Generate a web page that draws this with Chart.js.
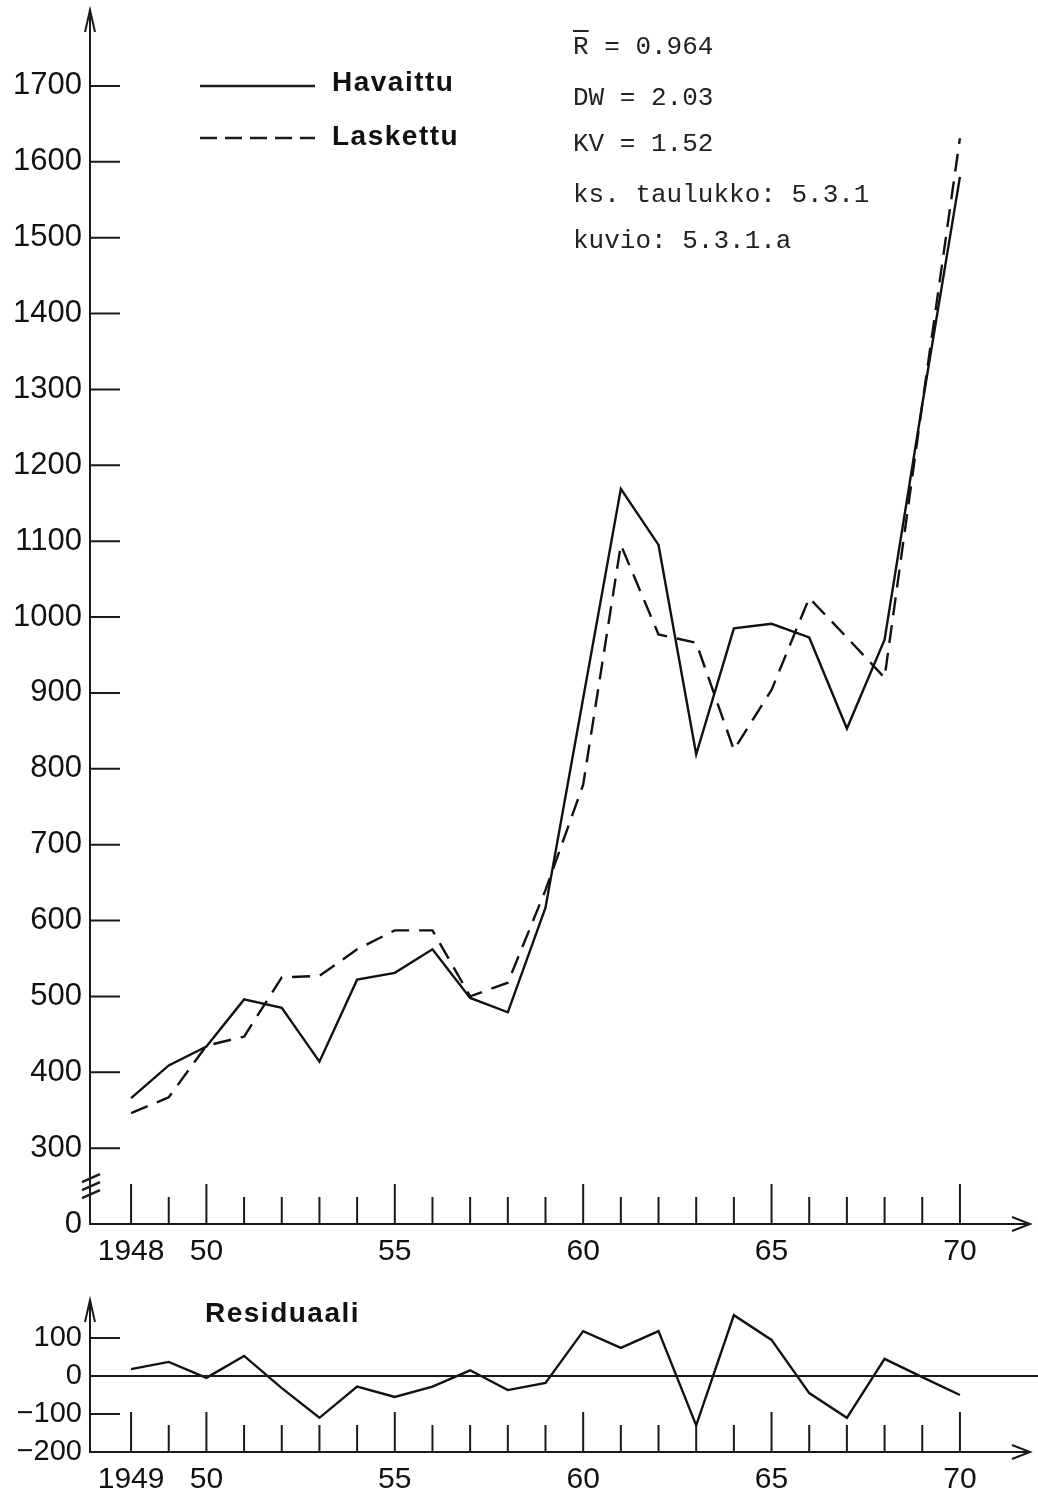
<!DOCTYPE html>
<html>
<head>
<meta charset="utf-8">
<script src="https://cdn.jsdelivr.net/npm/chart.js@4.4.1/dist/chart.umd.min.js"></script>
<style>
  body { margin: 0; background: #fff; width: 1038px; height: 1493px; position: relative; overflow: hidden; }
  canvas { position: absolute; left: 0; }
  .t { position: absolute; white-space: nowrap; color: #111; }
  .leg { font: bold 28px "Liberation Sans", Arial, sans-serif; letter-spacing: 1.5px; line-height: 32px; }
  .ms { font: 26px "Liberation Mono", "Courier New", monospace; line-height: 30px; color: #222; }
  .ov { text-decoration: overline; }
</style>
</head>
<body>
<canvas id="main" width="1038" height="1275" style="top:0"></canvas>
<canvas id="resid" width="1038" height="213" style="top:1280px"></canvas>

<div class="t leg" style="left:332px;top:66px">Havaittu</div>
<div class="t leg" style="left:332px;top:120px">Laskettu</div>

<div class="t ms" style="left:573px;top:32px"><span class="ov">R</span>  = 0.964</div>
<div class="t ms" style="left:573px;top:83px">DW = 2.03</div>
<div class="t ms" style="left:573px;top:129px">KV = 1.52</div>
<div class="t ms" style="left:573px;top:180px">ks. taulukko: 5.3.1</div>
<div class="t ms" style="left:573px;top:226px">kuvio: 5.3.1.a</div>

<div class="t leg" style="left:205px;top:1297px;font-size:28px">Residuaali</div>

<script>
// vuodet ja sarjat (luettu kuvasta)
const years = [1948, 1949, 1950, 1951, 1952, 1953, 1954, 1955, 1956, 1957, 1958, 1959,
               1960, 1961, 1962, 1963, 1964, 1965, 1966, 1967, 1968, 1969, 1970];
const havaittu = [366, 409, 434, 496, 485, 414, 522, 531, 562, 498, 479, 617,
                  893, 1169, 1095, 819, 985, 991, 973, 853, 970, 1280, 1580];
const laskettu = [346, 367, 435, 447, 525, 527, 562, 587, 587, 500, 518, 640,
                  779, 1095, 977, 966, 825, 904, 1025, 973, 920, 1280, 1631];
const residuaali = [18, 37, -5, 53, -32, -110, -28, -55, -28, 15, -37, -18,
                    118, 74, 118, -130, 160, 95, -45, -110, 45, -3, -50];

// akselien merkinnät
const xTickYears = [1948, 1950, 1955, 1960, 1965, 1970];
const mainXLabels = ['1948', '50', '55', '60', '65', '70'];
const resXLabels = ['1949', '50', '55', '60', '65', '70'];
const mainYTicks = [200, 300, 400, 500, 600, 700, 800, 900, 1000, 1100, 1200, 1300, 1400, 1500, 1600, 1700];
const mainYLabels = ['0', '300', '400', '500', '600', '700', '800', '900', '1000', '1100', '1200', '1300', '1400', '1500', '1600', '1700'];
const resYTicks = [-200, -100, 0, 100];
const resYLabels = ['\u2212200', '\u2212100', '0', '100'];

const ink = '#1a1a1a';
const fontFamily = '"Liberation Sans", Arial, sans-serif';

const axisMarks = {
  id: 'axisMarks',
  afterDraw(chart, args, o) {
    const { ctx, chartArea: a, scales: { x, y } } = chart;
    ctx.save();
    ctx.strokeStyle = ink;
    ctx.lineWidth = 2;
    ctx.beginPath();
    years.forEach(yr => {
      const px = x.getPixelForValue(yr);
      const len = xTickYears.includes(yr) ? o.longTick : o.shortTick;
      ctx.moveTo(px, a.bottom);
      ctx.lineTo(px, a.bottom - len);
    });
    o.yMarks.forEach(v => {
      const py = y.getPixelForValue(v);
      ctx.moveTo(a.left, py);
      ctx.lineTo(a.left + 30, py);
    });
    // nuolet
    ctx.moveTo(a.left - 5, a.top + 22); ctx.lineTo(a.left, a.top); ctx.lineTo(a.left + 5, a.top + 22);
    ctx.moveTo(a.right - 18, a.bottom - 7); ctx.lineTo(a.right, a.bottom); ctx.lineTo(a.right - 18, a.bottom + 7);
    ctx.stroke();

    if (o.zeroLine) {
      const p0 = y.getPixelForValue(0);
      ctx.beginPath();
      ctx.moveTo(a.left, p0);
      ctx.lineTo(chart.width, p0);
      ctx.stroke();
    }

    if (o.axisBreak) {
      const pb = y.getPixelForValue(250);
      ctx.lineWidth = 2.5;
      ctx.beginPath();
      for (let k = 0; k < 3; k++) {
        ctx.moveTo(a.left - 8, pb + k * 8 - 4);
        ctx.lineTo(a.left + 10, pb + k * 8 - 12);
      }
      ctx.stroke();
    }

    if (o.legend) {
      ctx.lineWidth = 2.4;
      ctx.beginPath();
      ctx.moveTo(200, 86); ctx.lineTo(315, 86);
      ctx.stroke();
      ctx.setLineDash([17, 8]);
      ctx.beginPath();
      ctx.moveTo(200, 138); ctx.lineTo(315, 138);
      ctx.stroke();
    }
    ctx.restore();
  }
};

function xScale(labels, h) {
  return {
    type: 'linear', min: 1946.91, max: 1971.86,
    afterFit(s) { s.height = h; s.paddingLeft = 0; s.paddingRight = 0; },
    afterBuildTicks(s) { s.ticks = xTickYears.map(v => ({ value: v })); },
    ticks: {
      callback: v => labels[xTickYears.indexOf(v)],
      padding: 10, maxRotation: 0, autoSkip: false,
      font: { family: fontFamily, size: 30 }, color: '#111'
    },
    grid: { display: false, drawTicks: false },
    border: { display: true, color: ink, width: 2 }
  };
}

function yScale(min, max, tickVals, labels, size) {
  return {
    type: 'linear', min: min, max: max,
    afterFit(s) { s.width = 90; s.paddingTop = 0; s.paddingBottom = 0; },
    afterBuildTicks(s) { s.ticks = tickVals.map(v => ({ value: v })); },
    ticks: {
      callback: v => labels[tickVals.indexOf(v)],
      padding: 8, autoSkip: false,
      font: { family: fontFamily, size: size }, color: '#111'
    },
    grid: { display: false, drawTicks: false },
    border: { display: true, color: ink, width: 2 }
  };
}

new Chart(document.getElementById('main'), {
  type: 'line',
  data: {
    datasets: [
      {
        label: 'Havaittu',
        data: years.map((v, i) => ({ x: v, y: havaittu[i] })),
        borderColor: '#111', borderWidth: 2.4, pointRadius: 0, tension: 0
      },
      {
        label: 'Laskettu',
        data: years.map((v, i) => ({ x: v, y: laskettu[i] })),
        borderColor: '#111', borderWidth: 2.4, borderDash: [18, 10], pointRadius: 0, tension: 0
      }
    ]
  },
  options: {
    responsive: false, animation: false, devicePixelRatio: 1,
    layout: { padding: { top: 10, right: 8, left: 0, bottom: 0 } },
    plugins: {
      legend: { display: false },
      tooltip: { enabled: false },
      axisMarks: { shortTick: 27, longTick: 40, yMarks: mainYTicks.slice(1), axisBreak: true, legend: true }
    },
    scales: {
      x: xScale(mainXLabels, 51),
      y: yScale(200, 1800, mainYTicks, mainYLabels, 31)
    }
  },
  plugins: [axisMarks]
});

new Chart(document.getElementById('resid'), {
  type: 'line',
  data: {
    datasets: [
      {
        label: 'Residuaali',
        data: years.map((v, i) => ({ x: v, y: residuaali[i] })),
        borderColor: '#111', borderWidth: 2.4, pointRadius: 0, tension: 0
      }
    ]
  },
  options: {
    responsive: false, animation: false, devicePixelRatio: 1,
    layout: { padding: { top: 20, right: 8, left: 0, bottom: 0 } },
    plugins: {
      legend: { display: false },
      tooltip: { enabled: false },
      axisMarks: { shortTick: 27, longTick: 40, yMarks: [100, -100], zeroLine: true }
    },
    scales: {
      x: xScale(resXLabels, 41),
      y: yScale(-200, 200, resYTicks, resYLabels, 29)
    }
  },
  plugins: [axisMarks]
});
</script>
</body>
</html>
